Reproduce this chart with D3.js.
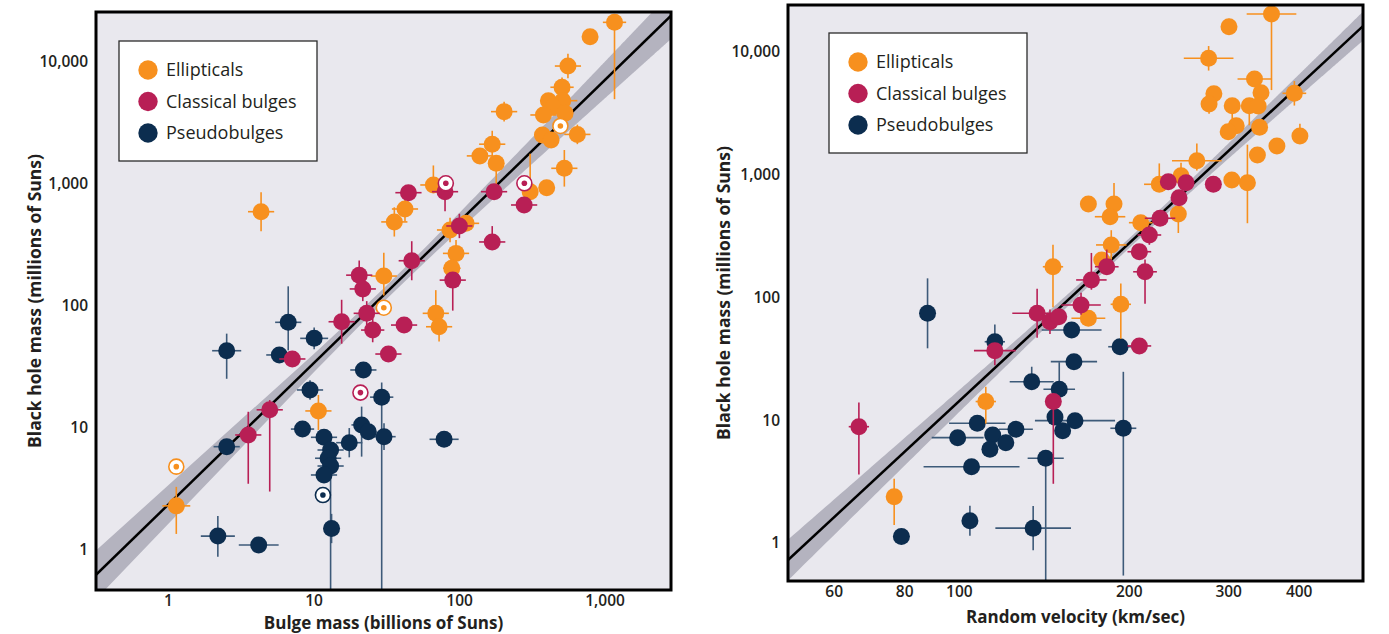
<!DOCTYPE html>
<html>
<head>
<meta charset="utf-8">
<script src="https://cdn.jsdelivr.net/npm/d3@7"></script>
<style>
  body { margin: 0; background: #fff; }
</style>
</head>
<body>
<div class="canvas"></div>
<script>
// rows: [x value, black hole mass (millions of Suns), x error (dex), y error below (dex), y error above (dex), hollow]

// ---- left panel: bulge mass (billions of Suns) ----
const bulgeEllipticals = [
  [1170, 21150, 0.08, 0.63, 0.06], [795, 16100, 0, 0, 0], [560, 9270, 0.09, 0.1, 0.1],
  [510, 6210, 0.08, 0.08, 0.08], [411, 4820, 0, 0, 0], [516, 4820, 0.1, 0, 0],
  [443, 4300, 0, 0, 0], [380, 3680, 0.09, 0, 0], [535, 3800, 0, 0, 0],
  [650, 2550, 0.09, 0.08, 0.08], [374, 2520, 0, 0, 0], [429, 2300, 0, 0, 0],
  [204, 3920, 0.09, 0.08, 0.08], [169, 2120, 0.09, 0.11, 0.11], [139, 1700, 0.09, 0, 0],
  [180, 1480, 0, 0.19, 0], [529, 1345, 0.09, 0.15, 0.15], [400, 933, 0, 0, 0],
  [308, 865, 0, 0, 0.31], [66.6, 982, 0.09, 0, 0.16], [42.5, 624, 0.09, 0.1, 0.1],
  [35.9, 489, 0.09, 0.12, 0.12], [111.7, 476, 0.09, 0, 0], [86.7, 420, 0.09, 0.1, 0.1],
  [95.3, 270, 0.09, 0.11, 0.11], [89.1, 204, 0.06, 0.1, 0.1], [30.4, 176, 0.09, 0.16, 0.19],
  [69.2, 87.1, 0.09, 0.05, 0.19], [72.9, 67.6, 0.09, 0.12, 0.05], [4.36, 593, 0.09, 0.16, 0.16],
  [10.8, 13.8, 0.09, 0.156, 0.131], [1.14, 2.3, 0.096, 0.23, 0.156],
  [497, 2990, 0, 0, 0, 1], [30.4, 96.8, 0, 0, 0, 1], [1.14, 4.82, 0, 0, 0, 1]
];
const bulgeClassical = [
  [81.1, 1013, 0, 0, 0, 1], [281, 1013, 0, 0, 0, 1],
  [44.9, 849, 0.09, 0, 0], [80.1, 865, 0.09, 0.16, 0], [174, 865, 0.09, 0, 0],
  [280, 673, 0.09, 0, 0], [100.5, 453, 0.09, 0.1, 0.1], [169, 335, 0.09, 0.05, 0.13],
  [90.5, 163, 0.09, 0.25, 0.05], [47.3, 235, 0.09, 0.16, 0.16], [20.6, 179, 0.09, 0.12, 0.12],
  [21.8, 138, 0.09, 0.1, 0.1], [23.2, 87.1, 0.09, 0.1, 0.1], [15.6, 74.3, 0.09, 0.18, 0.18],
  [25.5, 63.5, 0.08, 0.1, 0.1], [41.9, 69.8, 0.09, 0, 0], [32.7, 40.4, 0.09, 0, 0],
  [7.15, 36.8, 0.09, 0, 0], [5.0, 14.1, 0.09, 0.67, 0.08], [3.56, 8.77, 0.09, 0.4, 0.19],
  [21, 19.5, 0, 0, 0, 1]
];
const bulgePseudo = [
  [2.53, 43, 0.1, 0.23, 0.14], [6.7, 73.5, 0.09, 0.23, 0.295], [10.1, 54.3, 0.096, 0.09, 0.09],
  [5.82, 39.7, 0.09, 0, 0], [22, 29.9, 0.09, 0.05, 0.05], [9.46, 20.5, 0.09, 0.08, 0.08],
  [29.4, 17.9, 0.08, 1.7, 0.12], [8.4, 9.8, 0.08, 0, 0], [11.8, 8.39, 0.09, 0, 0],
  [13.1, 6.6, 0.09, 0, 0], [12.6, 5.65, 0.09, 0, 0], [13.1, 4.88, 0.09, 1.2, 0],
  [11.8, 4.12, 0.09, 0, 0], [17.6, 7.58, 0.09, 0.12, 0.12], [21.4, 10.6, 0.07, 0.26, 0.15],
  [23.8, 9.3, 0, 0, 0], [30.5, 8.49, 0.08, 0.11, 0.11], [78.9, 8.08, 0.1, 0, 0],
  [2.53, 7.03, 0.09, 0, 0], [13.3, 1.5, 0.055, 0.12, 0.12], [2.2, 1.3, 0.117, 0.17, 0.164],
  [4.2, 1.1, 0.137, 0.04, 0.04], [11.6, 2.82, 0, 0, 0, 1]
];

// ---- right panel: random velocity (km/sec) ----
const velocityEllipticals = [
  [358, 20400, 0.044, 0.62, 0], [301, 16070, 0.014, 0.065, 0.065], [277, 8885, 0.044, 0.1, 0.1],
  [334, 6026, 0.03, 0, 0], [343, 4660, 0, 0, 0], [283, 4574, 0, 0, 0],
  [277.5, 3771, 0, 0.08, 0.08], [305, 3652, 0, 0.16, 0], [327, 3652, 0, 0.16, 0],
  [339, 3631, 0, 0, 0], [310, 2509, 0, 0, 0], [300, 2243, 0, 0, 0],
  [341, 2435, 0, 0, 0], [393, 4608, 0.021, 0.1, 0.1], [402, 2069, 0, 0, 0.1],
  [366, 1715, 0, 0, 0], [338, 1449, 0, 0, 0], [324.5, 861, 0, 0.33, 0.31],
  [304.5, 906, 0, 0, 0], [264, 1302, 0.044, 0.08, 0.14], [247.5, 982, 0, 0, 0.106],
  [226.5, 836, 0.027, 0, 0.17], [169.6, 578, 0, 0, 0], [188.3, 578, 0, 0, 0.17],
  [185.3, 455, 0.027, 0, 0], [210, 407, 0.021, 0, 0], [244.8, 479, 0, 0.155, 0.08],
  [186.2, 268, 0.027, 0.12, 0.12], [179.1, 202, 0, 0, 0], [146.8, 178, 0.018, 0.33, 0.18],
  [169.6, 67.7, 0.03, 0, 0], [193.6, 88, 0.018, 0.28, 0.17], [111.6, 14.2, 0.018, 0.18, 0.12],
  [76.8, 2.38, 0.014, 0.23, 0.147]
];
const velocityClassical = [
  [235, 878, 0, 0, 0], [252.6, 861, 0, 0, 0], [282.4, 836, 0, 0, 0],
  [245.5, 650, 0, 0.05, 0.05], [227.2, 442, 0.027, 0.05, 0.05], [217.5, 323, 0.021, 0.08, 0.08],
  [208.8, 236, 0.021, 0, 0], [213.7, 162, 0.021, 0.26, 0.1], [182.8, 178, 0.021, 0, 0.14],
  [171.7, 139, 0.027, 0.08, 0.22], [164.6, 86.9, 0.035, 0.08, 0.1], [137.6, 74.3, 0.044, 0.2, 0.2],
  [145, 63.5, 0, 0.1, 0.1], [150.3, 69.8, 0, 0, 0], [208.8, 40.3, 0.021, 0, 0],
  [115.8, 36.9, 0.037, 0.12, 0], [147, 14.2, 0, 0.67, 0.065], [66.5, 8.86, 0.018, 0.39, 0.196]
];
const velocityPseudo = [
  [88, 74.3, 0, 0.285, 0.285], [115.8, 43.6, 0.018, 0, 0.14], [158.4, 54.4, 0.053, 0, 0],
  [193, 39.7, 0.021, 0, 0], [159.9, 30, 0.041, 0, 0], [134.6, 20.6, 0.039, 0, 0.122],
  [150.6, 17.9, 0.028, 0, 0.22], [148, 10.6, 0, 0, 0], [160.6, 9.92, 0.071, 0, 0],
  [152.7, 8.22, 0, 0.06, 0.06], [195.6, 8.6, 0.023, 1.2, 0.46], [107.8, 9.45, 0.05, 0, 0],
  [99.5, 7.21, 0.046, 0, 0], [114.8, 7.58, 0, 0, 0], [126.2, 8.44, 0.03, 0, 0],
  [121.1, 6.56, 0, 0.065, 0.065], [113.5, 5.8, 0, 0, 0], [142.5, 4.9, 0.032, 1.2, 0],
  [105.3, 4.18, 0.085, 0, 0], [104.6, 1.52, 0, 0.122, 0.122], [135.4, 1.32, 0.067, 0.18, 0.18],
  [79.1, 1.13, 0.014, 0, 0]
];

const massTicks = [1, 10, 100, 1000, 10000];
const bulgeTicks = [1, 10, 100, 1000];
const velocityTicks = [60, 80, 100, 200, 300, 400];
const legendLabels = ['Ellipticals', 'Classical bulges', 'Pseudobulges'];

// fitted relations: log M = log(norm) + slope * (log x - log(pivot))
const bulgeFit = [490, 1.16, 100];
const velocityFit = [275, 4.27, 200];

const svgWidth = 1389;
const svgHeight = 634;
const font = '"Open Sans", "Noto Sans", sans-serif';
const textColor = '#231f20';
// index 0 ellipticals, 1 classical bulges, 2 pseudobulges
const dotColors = ['#f7901e', '#b81f55', '#0c2d4f'];
const barColors = ['#f7901e', '#b81f55', '#3d5a79'];

const svg = d3.select('.canvas').append('svg')
  .attr('width', svgWidth)
  .attr('height', svgHeight)
  .style('display', 'block');

function drawPanel(cfg) {
  const g = svg.append('g');
  const x = d3.scaleLog().domain(cfg.xDomain).range([cfg.left, cfg.right]);
  const y = d3.scaleLog().domain(cfg.yDomain).range([cfg.bottom, cfg.top]);
  const w = cfg.right - cfg.left;
  const h = cfg.bottom - cfg.top;

  svg.append('clipPath').attr('id', 'clip-' + cfg.id)
    .append('rect')
    .attr('x', cfg.left).attr('y', cfg.top)
    .attr('width', w).attr('height', h);

  // plot background
  g.append('rect')
    .attr('x', cfg.left).attr('y', cfg.top)
    .attr('width', w).attr('height', h)
    .attr('fill', '#e9e8ee');

  const plot = g.append('g').attr('clip-path', `url(#clip-${cfg.id})`);

  // fit line and its shaded band
  const [norm, slope, pivot] = cfg.fit;
  const fitLog = v => Math.log10(norm) + slope * (Math.log10(v) - Math.log10(pivot));
  const halfWidth = v => Math.hypot(cfg.band[0], cfg.band[1] * (Math.log10(v) - cfg.band[2]));
  const xs = x.ticks(400).concat(cfg.xDomain).sort((a, b) => a - b);

  plot.append('path')
    .datum(xs)
    .attr('fill', '#b4b3bf')
    .attr('d', d3.area()
      .x(d => x(d))
      .y0(d => y(Math.pow(10, fitLog(d) - halfWidth(d))))
      .y1(d => y(Math.pow(10, fitLog(d) + halfWidth(d)))));

  plot.append('path')
    .datum(cfg.xDomain)
    .attr('fill', 'none')
    .attr('stroke', '#000')
    .attr('stroke-width', 2.5)
    .attr('d', d3.line().x(d => x(d)).y(d => y(Math.pow(10, fitLog(d)))));

  // data points, one group per galaxy type (drawn pseudobulges first)
  cfg.sets.forEach(([rows, c]) => {
    const grp = plot.append('g');

    grp.selectAll('line.xerr')
      .data(rows.filter(d => d[2] > 0))
      .enter().append('line')
      .attr('x1', d => x(d[0] / Math.pow(10, d[2])))
      .attr('x2', d => x(d[0] * Math.pow(10, d[2])))
      .attr('y1', d => y(d[1]))
      .attr('y2', d => y(d[1]))
      .attr('stroke', barColors[c])
      .attr('stroke-width', 1.6);

    grp.selectAll('line.yerr')
      .data(rows.filter(d => d[3] > 0 || d[4] > 0))
      .enter().append('line')
      .attr('x1', d => x(d[0]))
      .attr('x2', d => x(d[0]))
      .attr('y1', d => y(d[1] / Math.pow(10, d[3])))
      .attr('y2', d => y(d[1] * Math.pow(10, d[4])))
      .attr('stroke', barColors[c])
      .attr('stroke-width', 1.6);

    grp.selectAll('circle.dot')
      .data(rows.filter(d => !d[5]))
      .enter().append('circle')
      .attr('cx', d => x(d[0]))
      .attr('cy', d => y(d[1]))
      .attr('r', 8.5)
      .attr('fill', dotColors[c]);

    const hollow = grp.selectAll('g.hollow')
      .data(rows.filter(d => d[5]))
      .enter().append('g')
      .attr('transform', d => `translate(${x(d[0])},${y(d[1])})`);
    hollow.append('circle')
      .attr('r', 7.5)
      .attr('fill', '#fff')
      .attr('stroke', dotColors[c])
      .attr('stroke-width', 1.6);
    hollow.append('circle')
      .attr('r', 2.8)
      .attr('fill', dotColors[c]);
  });

  // frame
  g.append('rect')
    .attr('x', cfg.left).attr('y', cfg.top)
    .attr('width', w).attr('height', h)
    .attr('fill', 'none')
    .attr('stroke', '#000')
    .attr('stroke-width', 3);

  // axes: labels only, no tick marks
  const xAxis = g.append('g')
    .attr('transform', `translate(0,${cfg.bottom})`)
    .call(d3.axisBottom(x).tickValues(cfg.xTicks).tickFormat(d3.format(',')).tickSize(0).tickPadding(5));
  const yAxis = g.append('g')
    .attr('transform', `translate(${cfg.left},0)`)
    .call(d3.axisLeft(y).tickValues(massTicks).tickFormat(d3.format(',')).tickSize(0).tickPadding(8));
  [xAxis, yAxis].forEach(a => {
    a.select('.domain').remove();
    a.attr('font-family', font).attr('font-size', 15.5).attr('font-weight', 600);
    a.selectAll('text').attr('fill', textColor);
  });

  // axis titles
  g.append('text')
    .attr('x', (cfg.left + cfg.right) / 2)
    .attr('y', cfg.xTitleY)
    .attr('text-anchor', 'middle')
    .attr('font-family', font).attr('font-size', 17).attr('font-weight', 700)
    .attr('fill', textColor)
    .text(cfg.xTitle);

  g.append('text')
    .attr('transform', `translate(${cfg.yTitleX},${(cfg.top + cfg.bottom) / 2}) rotate(-90)`)
    .attr('text-anchor', 'middle')
    .attr('font-family', font).attr('font-size', 17.5).attr('font-weight', 700)
    .attr('fill', textColor)
    .text('Black hole mass (millions of Suns)');

  // legend
  const lg = g.append('g').attr('transform', `translate(${cfg.legend[0]},${cfg.legend[1]})`);
  lg.append('rect')
    .attr('width', 198).attr('height', 120)
    .attr('fill', '#fff')
    .attr('stroke', '#2b2b2b')
    .attr('stroke-width', 1.3);
  lg.selectAll('circle')
    .data(legendLabels)
    .enter().append('circle')
    .attr('cx', 29)
    .attr('cy', (d, i) => 29 + i * 31.5)
    .attr('r', 9.7)
    .attr('fill', (d, i) => dotColors[i]);
  lg.selectAll('text')
    .data(legendLabels)
    .enter().append('text')
    .attr('x', 47)
    .attr('y', (d, i) => 29 + i * 31.5)
    .attr('dy', '0.35em')
    .attr('font-family', font).attr('font-size', 18)
    .attr('fill', textColor)
    .text(d => d);
}

drawPanel({
  id: 'bulge',
  left: 96, right: 671, top: 12, bottom: 590,
  xDomain: [0.32, 2860], yDomain: [0.47, 25700],
  xTicks: bulgeTicks,
  xTitle: 'Bulge mass (billions of Suns)', xTitleY: 628.5, yTitleX: 41,
  sets: [[bulgePseudo, 2], [bulgeEllipticals, 0], [bulgeClassical, 1]],
  fit: bulgeFit, band: [0.055, 0.095, 1.53],
  legend: [119, 41]
});

drawPanel({
  id: 'velocity',
  left: 788, right: 1363, top: 5, bottom: 581,
  xDomain: [49.8, 520], yDomain: [0.49, 24150],
  xTicks: velocityTicks,
  xTitle: 'Random velocity (km/sec)', xTitleY: 623, yTitleX: 730,
  sets: [[velocityPseudo, 2], [velocityEllipticals, 0], [velocityClassical, 1]],
  fit: velocityFit, band: [0.04, 0.267, 2.3],
  legend: [829, 33]
});
</script>
</body>
</html>
